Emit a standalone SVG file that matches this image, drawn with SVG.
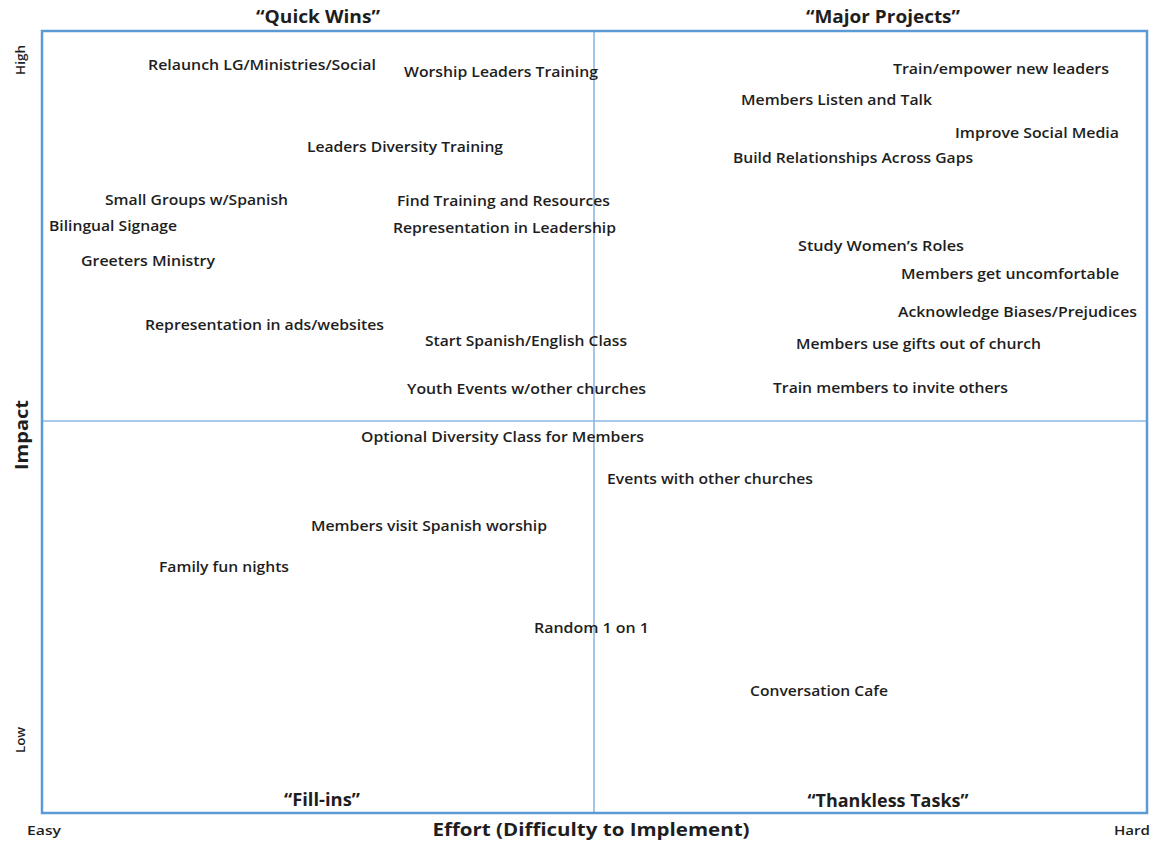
<svg xmlns="http://www.w3.org/2000/svg" width="1163" height="843" viewBox="0 0 1163 843">
<style>
.frame{fill:none;stroke:#5b9bd5;stroke-width:2.5}
.mid{stroke:#8db8e3;stroke-width:1.6}
text{font-family:"Open Sans","Liberation Sans",sans-serif;fill:#1e1e1e}
.it{font-size:15px;font-weight:600}
.q{font-size:17px;font-weight:700;text-anchor:middle}
.ax{font-size:18px;font-weight:700;text-anchor:middle}
.sm{font-size:13px;font-weight:600;text-anchor:middle}
</style>
<rect width="1163" height="843" fill="#fff"/>
<g id="grid">
<line class="mid" x1="594" y1="31" x2="594" y2="812"/>
<line class="mid" x1="43" y1="421" x2="1146" y2="421"/>
<rect class="frame" x="42" y="31" width="1105" height="782"/>
</g>
<g id="labels">
<text class="q" x="318" y="23" textLength="124" lengthAdjust="spacingAndGlyphs">“Quick Wins”</text>
<text class="q" x="883" y="23" textLength="154" lengthAdjust="spacingAndGlyphs">“Major Projects”</text>
<text class="q" x="322" y="806" textLength="76" lengthAdjust="spacingAndGlyphs">“Fill-ins”</text>
<text class="q" x="888" y="807" textLength="161" lengthAdjust="spacingAndGlyphs">“Thankless Tasks”</text>
<text class="ax" x="591" y="836" textLength="317" lengthAdjust="spacingAndGlyphs">Effort (Difficulty to Implement)</text>
<text class="sm" x="44" y="835" textLength="34" lengthAdjust="spacingAndGlyphs">Easy</text>
<text class="sm" x="1132" y="835" textLength="36" lengthAdjust="spacingAndGlyphs">Hard</text>
<text class="sm" transform="translate(25,60) rotate(-90)" textLength="30" lengthAdjust="spacingAndGlyphs">High</text>
<text class="sm" transform="translate(25,740) rotate(-90)" textLength="26" lengthAdjust="spacingAndGlyphs">Low</text>
<text class="ax" transform="translate(28,435) rotate(-90)" textLength="70" lengthAdjust="spacingAndGlyphs">Impact</text>
</g>
<g id="n1"><text class="it" x="148" y="70" textLength="228" lengthAdjust="spacingAndGlyphs">Relaunch LG/Ministries/Social</text></g>
<g id="n2"><text class="it" x="404" y="77" textLength="194" lengthAdjust="spacingAndGlyphs">Worship Leaders Training</text></g>
<g id="n3"><text class="it" x="893" y="74" textLength="216" lengthAdjust="spacingAndGlyphs">Train/empower new leaders</text></g>
<g id="n4"><text class="it" x="741" y="105" textLength="191" lengthAdjust="spacingAndGlyphs">Members Listen and Talk</text></g>
<g id="n5"><text class="it" x="955" y="138" textLength="164" lengthAdjust="spacingAndGlyphs">Improve Social Media</text></g>
<g id="n6"><text class="it" x="307" y="152" textLength="196" lengthAdjust="spacingAndGlyphs">Leaders Diversity Training</text></g>
<g id="n7"><text class="it" x="733" y="163" textLength="240" lengthAdjust="spacingAndGlyphs">Build Relationships Across Gaps</text></g>
<g id="n8"><text class="it" x="105" y="205" textLength="183" lengthAdjust="spacingAndGlyphs">Small Groups w/Spanish</text></g>
<g id="n9"><text class="it" x="397" y="206" textLength="213" lengthAdjust="spacingAndGlyphs">Find Training and Resources</text></g>
<g id="n10"><text class="it" x="49" y="231" textLength="128" lengthAdjust="spacingAndGlyphs">Bilingual Signage</text></g>
<g id="n11"><text class="it" x="393" y="233" textLength="223" lengthAdjust="spacingAndGlyphs">Representation in Leadership</text></g>
<g id="n12"><text class="it" x="798" y="251" textLength="166" lengthAdjust="spacingAndGlyphs">Study Women’s Roles</text></g>
<g id="n13"><text class="it" x="81" y="266" textLength="134" lengthAdjust="spacingAndGlyphs">Greeters Ministry</text></g>
<g id="n14"><text class="it" x="901" y="279" textLength="218" lengthAdjust="spacingAndGlyphs">Members get uncomfortable</text></g>
<g id="n15"><text class="it" x="898" y="317" textLength="239" lengthAdjust="spacingAndGlyphs">Acknowledge Biases/Prejudices</text></g>
<g id="n16"><text class="it" x="145" y="330" textLength="239" lengthAdjust="spacingAndGlyphs">Representation in ads/websites</text></g>
<g id="n17"><text class="it" x="425" y="346" textLength="202" lengthAdjust="spacingAndGlyphs">Start Spanish/English Class</text></g>
<g id="n18"><text class="it" x="796" y="349" textLength="245" lengthAdjust="spacingAndGlyphs">Members use gifts out of church</text></g>
<g id="n19"><text class="it" x="407" y="394" textLength="239" lengthAdjust="spacingAndGlyphs">Youth Events w/other churches</text></g>
<g id="n20"><text class="it" x="773" y="393" textLength="235" lengthAdjust="spacingAndGlyphs">Train members to invite others</text></g>
<g id="n21"><text class="it" x="361" y="442" textLength="283" lengthAdjust="spacingAndGlyphs">Optional Diversity Class for Members</text></g>
<g id="n22"><text class="it" x="607" y="484" textLength="206" lengthAdjust="spacingAndGlyphs">Events with other churches</text></g>
<g id="n23"><text class="it" x="311" y="531" textLength="236" lengthAdjust="spacingAndGlyphs">Members visit Spanish worship</text></g>
<g id="n24"><text class="it" x="159" y="572" textLength="130" lengthAdjust="spacingAndGlyphs">Family fun nights</text></g>
<g id="n25"><text class="it" x="534" y="633" textLength="115" lengthAdjust="spacingAndGlyphs">Random 1 on 1</text></g>
<g id="n26"><text class="it" x="750" y="696" textLength="138" lengthAdjust="spacingAndGlyphs">Conversation Cafe</text></g>
</svg>
